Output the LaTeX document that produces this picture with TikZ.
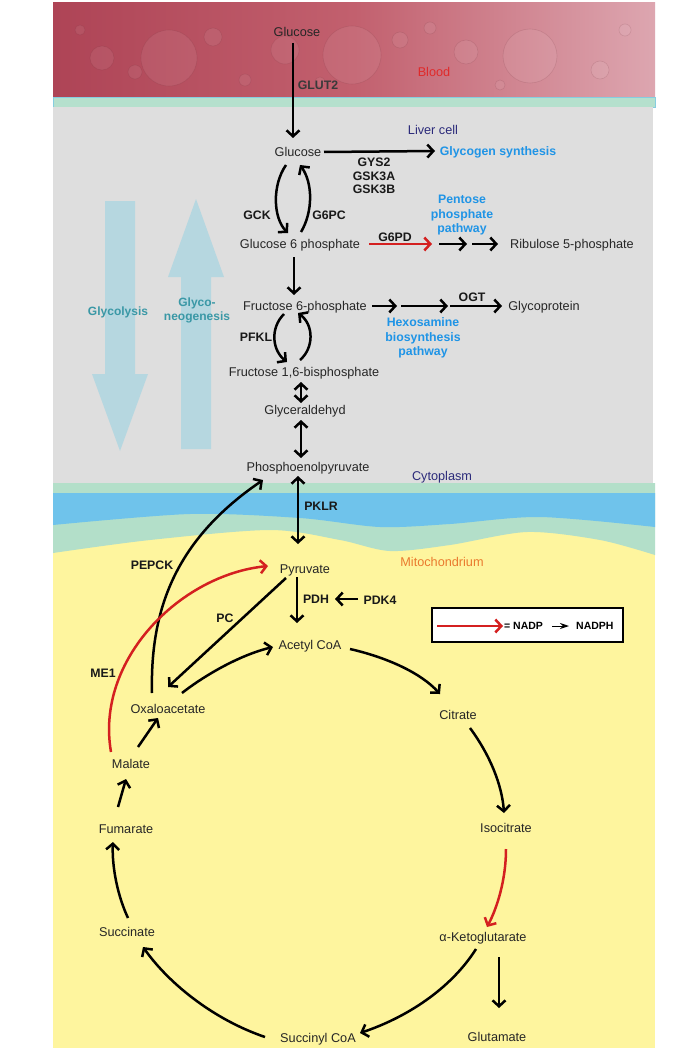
\documentclass[tikz,border=0pt]{standalone}
\usepackage{fontspec}
\setmainfont{Liberation Sans}
\usetikzlibrary{arrows.meta,calc}
\definecolor{bloodL}{HTML}{AE4456}
\definecolor{bloodM}{HTML}{C2606E}
\definecolor{bloodR}{HTML}{DDA6B0}
\definecolor{memTop}{HTML}{B5E0CD}
\definecolor{memEdge}{HTML}{86CDE0}
\definecolor{cellgray}{HTML}{DEDEDE}
\definecolor{mitoyel}{HTML}{FEF59E}
\definecolor{memGreen}{HTML}{B3DFC9}
\definecolor{memBlue}{HTML}{6FC3EB}
\definecolor{bigarrow}{HTML}{B6D7E0}
\definecolor{tealtxt}{HTML}{3A98A6}
\definecolor{pathblue}{HTML}{1F94E6}
\definecolor{indigo}{HTML}{2B2A7A}
\definecolor{mitoorange}{HTML}{EA7A2E}
\definecolor{arrred}{HTML}{D42020}
\definecolor{bloodtxt}{HTML}{E02A2A}
\definecolor{gluttxt}{HTML}{3A3A3A}
\begin{document}
\begin{tikzpicture}[x=1pt,y=-1pt,
  lbl/.style={font=\fontsize{12.7}{15}\selectfont, inner sep=1pt, text height=9pt, text depth=0pt, text=black!85},
  enz/.style={font=\bfseries\fontsize{12.3}{14}\selectfont, inner sep=1pt, text height=8.8pt, text depth=0pt, text=black!90},
  pway/.style={enz, text=pathblue},
  big/.style={font=\bfseries\fontsize{12}{14}\selectfont, inner sep=1pt, text height=8.7pt, text depth=0pt, text=tealtxt},
  region/.style={font=\fontsize{12.7}{15}\selectfont, inner sep=1pt, text height=9pt, text depth=0pt},
  arr/.style={line width=2.5pt, -{Straight Barb[length=6pt,width=13pt]}},
  darr/.style={line width=2.5pt, {Straight Barb[length=6pt,width=13pt]}-{Straight Barb[length=6pt,width=13pt]}},
  redarr/.style={arr, draw=arrred},
  drop/.style={fill=white, fill opacity=0.07, draw=bloodL!60!black, draw opacity=0.15, line width=0.6pt},
  legtxt/.style={font=\bfseries\fontsize{10.5}{12}\selectfont, inner sep=1pt, text height=7.6pt, text depth=0pt}
]
\useasboundingbox (0,0) rectangle (695,1051);
\fill[white] (0,0) rectangle (695,1051);

% ---------- backgrounds ----------
\shade[left color=bloodL, right color=bloodR, middle color=bloodM] (53,3) rectangle (655,97);
\foreach \cx/\cy/\r in {169/58/28, 352/55/29, 530/56/27, 102/58/12, 285/50/14, 466/52/12, 213/37/9, 400/40/8, 135/72/7, 600/70/9, 245/80/6, 430/28/6, 80/30/5, 625/30/6, 320/82/5, 500/85/5}{
  \path[drop] (\cx,\cy) circle (\r);
}
\fill[memTop] (53,97) rectangle (655,107);
\draw[memEdge, line width=0.8pt] (53,97) rectangle (655,107);
\fill[cellgray] (53,107.4) rectangle (653,490);
\fill[mitoyel] (53,485) rectangle (655,1048);
\fill[memGreen] (53,483) -- (655,483) -- (655,555) --
  plot[smooth] coordinates {(655,555) (600,540) (527,532) (450,545) (390,551) (340,540) (270,530) (150,540) (53,553)} -- cycle;
\fill[memBlue] (53,493) -- (655,493) -- (655,527) --
  plot[smooth] coordinates {(655,527) (540,517) (450,524) (380,527) (300,518) (190,514) (53,525)} -- cycle;

% ---------- big process arrows ----------
\fill[bigarrow] (105,201) -- (135,201) -- (135,374) -- (148,374) -- (120,451) -- (92,374) -- (105,374) -- cycle;
\fill[bigarrow] (181,449) -- (211,449) -- (211,277) -- (224,277) -- (196,199) -- (168,277) -- (181,277) -- cycle;
\node[big] (glycolysis) at (118,311) {Glycolysis};
\node[big] (gng1) at (197,302) {Glyco-};
\node[big] (gng2) at (197,316) {neogenesis};

% ---------- region labels ----------
\node[region, text=bloodtxt] (blood) at (434,72) {Blood};
\node[region, text=indigo] (liver) at (433,130) {Liver cell};
\node[region, text=indigo] (cyto) at (442,476) {Cytoplasm};
\node[region, text=mitoorange] (mito) at (442,562) {Mitochondrium};

% ---------- metabolites ----------
\node[lbl] (glcB) at (297,32) {Glucose};
\node[lbl] (glc) at (298,152) {Glucose};
\node[lbl] (g6p) at (300,244) {Glucose 6 phosphate};
\node[lbl] (rib) at (572,244) {Ribulose 5-phosphate};
\node[lbl] (f6p) at (305,306) {Fructose 6-phosphate};
\node[lbl] (glycop) at (544,306) {Glycoprotein};
\node[lbl] (f16) at (304,372) {Fructose 1,6-bisphosphate};
\node[lbl] (gald) at (305,410) {Glyceraldehyd};
\node[lbl] (pep) at (308,467) {Phosphoenolpyruvate};
\node[lbl] (pyr) at (305,569) {Pyruvate};
\node[lbl] (acoa) at (310,645) {Acetyl CoA};
\node[lbl] (oaa) at (168,709) {Oxaloacetate};
\node[lbl] (cit) at (458,715) {Citrate};
\node[lbl] (mal) at (131,764) {Malate};
\node[lbl] (fum) at (126,829) {Fumarate};
\node[lbl] (iso) at (506,828) {Isocitrate};
\node[lbl] (succ) at (127,932) {Succinate};
\node[lbl] (akg) at (483,937) {α-Ketoglutarate};
\node[lbl] (glu) at (497,1037) {Glutamate};
\node[lbl] (scoa) at (318,1038) {Succinyl CoA};

% ---------- enzymes and pathways ----------
\node[enz, text=gluttxt] (glut2) at (318,85) {GLUT2};
\node[pway] (glyc) at (498,151) {Glycogen synthesis};
\node[enz] (gys2) at (374,162) {GYS2};
\node[enz] (gsk3a) at (374,176) {GSK3A};
\node[enz] (gsk3b) at (374,189) {GSK3B};
\node[enz] (gck) at (257,215) {GCK};
\node[enz] (g6pc) at (329,215) {G6PC};
\node[enz] (g6pd) at (395,237) {G6PD};
\node[pway] (ppp1) at (462,199) {Pentose};
\node[pway] (ppp2) at (462,214) {phosphate};
\node[pway] (ppp3) at (462,228) {pathway};
\node[enz] (ogt) at (472,297) {OGT};
\node[pway] (hbp1) at (423,322) {Hexosamine};
\node[pway] (hbp2) at (423,337) {biosynthesis};
\node[pway] (hbp3) at (423,351) {pathway};
\node[enz] (pfkl) at (256,337) {PFKL};
\node[enz] (pklr) at (321,506) {PKLR};
\node[enz] (pepck) at (152,565) {PEPCK};
\node[enz] (pc) at (225,618) {PC};
\node[enz] (pdh) at (316,599) {PDH};
\node[enz] (pdk4) at (380,600) {PDK4};
\node[enz] (me1) at (103,673) {ME1};

% ---------- connectors: glycolysis ----------
\draw[arr] ($(glcB)+(-4,11)$) -- ($(glc)+(-5,-14)$);
\draw[arr] ($(glc)+(26,0)$) -- ($(glyc)+(-63,0)$);
\draw[arr] ($(glc)+(-12,13)$) .. controls (272,185) and (273,218) .. ($(g6p)+(-12,-11)$);
\draw[arr] ($(g6p)+(1,-12)$) .. controls (313,212) and (313,183) .. ($(glc)+(2,13)$);
\draw[redarr] ($(g6p)+(69,0)$) -- ($(ppp3)+(-30,16)$);
\draw[arr] ($(rib)+(-133,0)$) -- ($(rib)+(-105,0)$);
\draw[arr] ($(rib)+(-100,0)$) -- ($(rib)+(-74,0)$);
\draw[arr] ($(g6p)+(-6,13)$) -- ($(f6p)+(-11,-11)$);
\draw[arr] ($(f6p)+(67,0)$) -- ($(f6p)+(92,0)$);
\draw[arr] ($(f6p)+(96,0)$) -- ($(glycop)+(-96,0)$);
\draw[arr] ($(glycop)+(-94,0)$) -- ($(glycop)+(-42,0)$);
\draw[arr] ($(f6p)+(-21,8)$) .. controls (270,328) and (272,350) .. ($(f16)+(-17,-10)$);
\draw[arr] ($(f16)+(-4,-12)$) .. controls (314,348) and (314,325) .. ($(f6p)+(-7,7)$);
\draw[darr] ($(f16)+(-3,10)$) -- ($(gald)+(-4,-7)$);
\draw[darr] ($(gald)+(-4,10)$) -- ($(pep)+(-7,-9)$);
\draw[darr] ($(pep)+(-10,9)$) -- ($(pyr)+(-7,-25)$);

% ---------- connectors: mitochondrion ----------
\draw[arr] ($(oaa)+(-16,-16)$) .. controls (150,610) and (175,540) .. ($(pep)+(-45,13)$);
\draw[redarr] ($(mal)+(-20,-12)$) .. controls (95,660) and (180,575) .. ($(pyr)+(-37,-3)$);
\draw[arr] ($(pyr)+(-19,9)$) -- ($(oaa)+(0,-22)$);
\draw[arr] ($(pyr)+(-8,8)$) -- ($(acoa)+(-13,-22)$);
\draw[arr] ($(pdk4)+(-22,-1)$) -- ($(pdh)+(19,0)$);
\draw[arr] ($(oaa)+(14,-16)$) .. controls (205,675) and (240,655) .. ($(acoa)+(-37,2)$);
\draw[arr] ($(acoa)+(40,4)$) .. controls (385,657) and (420,672) .. ($(cit)+(-18,-21)$);
\draw[arr] ($(cit)+(12,13)$) .. controls (490,755) and (502,785) .. ($(iso)+(-2,-15)$);
\draw[redarr] ($(iso)+(0,21)$) .. controls (506,880) and (497,908) .. ($(akg)+(4,-10)$);
\draw[arr] ($(akg)+(16,20)$) -- ($(glu)+(2,-29)$);
\draw[arr] ($(akg)+(-7,12)$) .. controls (450,990) and (405,1018) .. ($(scoa)+(42,-5)$);
\draw[arr] ($(scoa)+(-53,-1)$) .. controls (215,1020) and (170,985) .. ($(succ)+(16,15)$);
\draw[arr] ($(succ)+(1,-14)$) .. controls (115,890) and (112,860) .. ($(fum)+(-13,13)$);
\draw[arr] ($(fum)+(-8,-22)$) -- ($(mal)+(-5,15)$);
\draw[arr] ($(mal)+(7,-17)$) -- ($(oaa)+(-10,9)$);

% ---------- legend ----------
\node[draw=black, line width=2pt, fill=white, minimum width=191pt, minimum height=34pt, inner sep=0pt] (legend) at (527.5,625) {};
\node[legtxt, anchor=west] (nadp) at (503,626) {= NADP};
\node[legtxt, anchor=west] (nadph) at (575,626) {NADPH};
\draw[redarr] ($(legend.west)+(6,1)$) -- (nadp.west);
\draw[line width=1pt, -{Stealth[length=9pt,width=6pt]}] ($(nadp.east)+(8,0)$) -- ($(nadph.west)+(-6,0)$);
\end{tikzpicture}
\end{document}
